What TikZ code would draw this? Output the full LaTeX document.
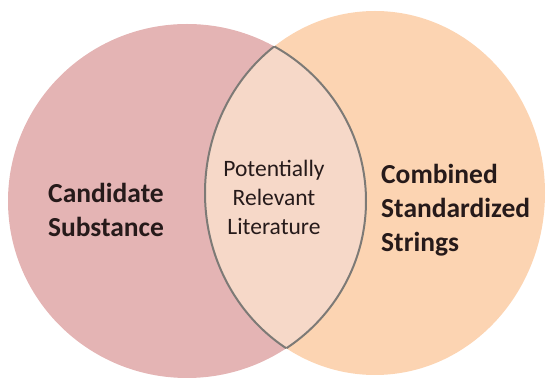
\documentclass[tikz,border=0pt]{standalone}
\usepackage{fontspec}
\setmainfont{Carlito}
\definecolor{pinkfill}{RGB}{228,180,180}
\definecolor{peachfill}{RGB}{252,212,178}
\definecolor{lensfill}{RGB}{246,216,200}
\definecolor{lensline}{RGB}{125,122,118}
\definecolor{txt}{RGB}{38,26,26}
\tikzset{
  bigtext/.style={text=txt, font=\bfseries\fontsize{27.5}{34}\selectfont, inner sep=0pt},
  midtext/.style={text=txt, font=\fontsize{23.5}{29}\selectfont, inner sep=0pt, align=center},
  lensedge/.style={draw=lensline, line width=2pt}
}
\begin{document}
\begin{tikzpicture}[x=1pt,y=-1pt]
\useasboundingbox (0,0) rectangle (550,379);
% circles
\fill[pinkfill] (187,201) ellipse [x radius=179, y radius=177];
\fill[peachfill] (375,193) ellipse [x radius=170, y radius=182];
% lens
\begin{scope}
  \clip (187,201) ellipse [x radius=179, y radius=177];
  \fill[lensfill] (375,193) ellipse [x radius=170, y radius=182];
  \draw[lensedge] (375,193) ellipse [x radius=170, y radius=182];
\end{scope}
\begin{scope}
  \clip (375,193) ellipse [x radius=170, y radius=182];
  \draw[lensedge] (187,201) ellipse [x radius=179, y radius=177];
\end{scope}
% labels
\node[bigtext, align=center] (cand) at (106,210) {Candidate\\Substance};
\node[midtext] (lit) at (274,197) {Potentially\\Relevant\\Literature};
\node[bigtext, align=left, anchor=west] (comb) at (381,210) {Combined\\Standardized\\Strings};
\end{tikzpicture}
\end{document}
